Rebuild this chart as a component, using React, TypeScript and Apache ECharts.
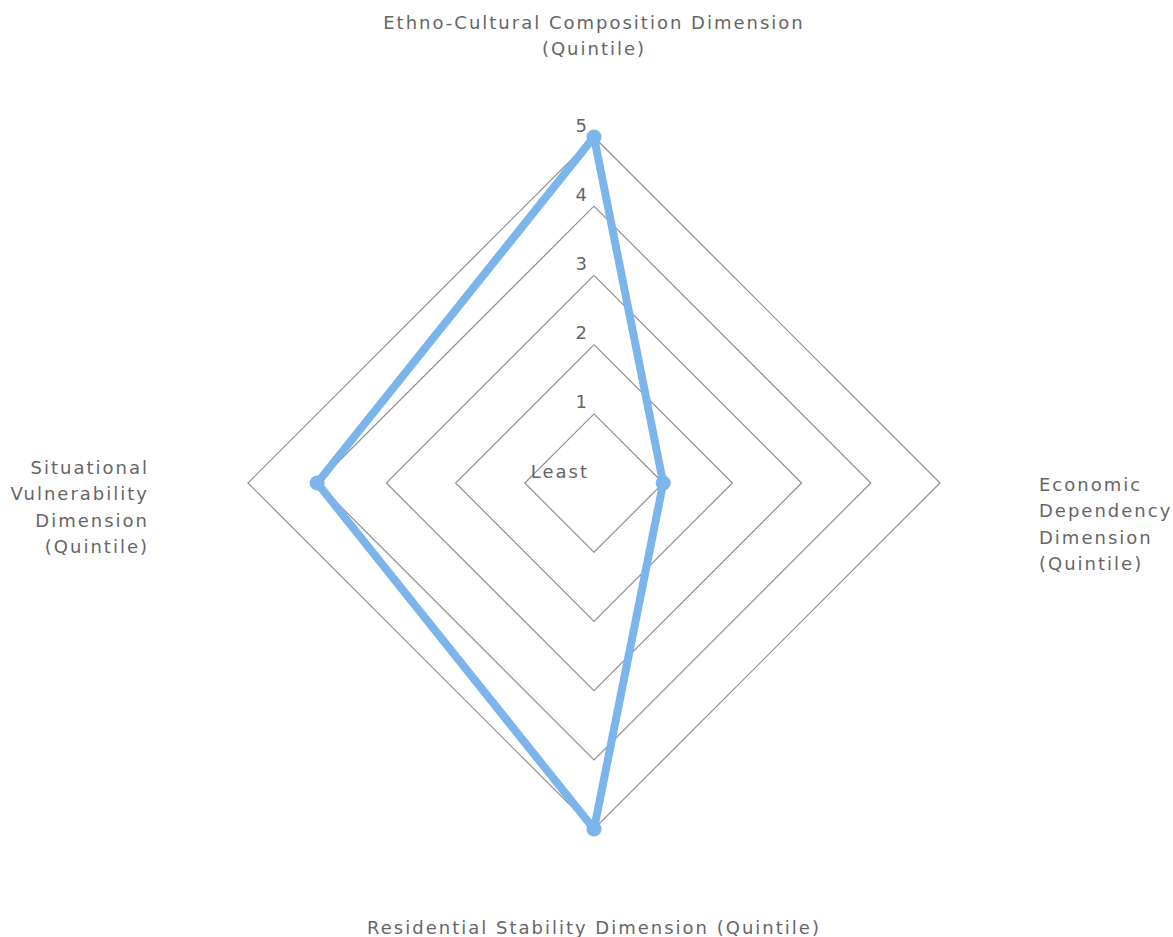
import React, { useEffect, useRef } from "react";
import * as echarts from "echarts";

const indicatorNames = [
  "Ethno-Cultural Composition Dimension\n(Quintile)",
  "Situational\nVulnerability\nDimension\n(Quintile)",
  "Residential Stability Dimension (Quintile)",
  "Economic\nDependency\nDimension\n(Quintile)",
];
const values = [5, 4, 5, 1];
const axisMin = 0;
const axisMax = 5;
const centerLabel = "Least";

const TEXT_COLOR = "#666666";
const FONT = "'DejaVu Sans', 'Lucida Grande', sans-serif";

export default function App() {
  const ref = useRef<HTMLDivElement>(null);
  useEffect(() => {
    if (!ref.current) return;
    const chart = echarts.init(ref.current, null, { renderer: "svg" });
    const textStyle = { fill: TEXT_COLOR, font: `18px ${FONT}`, lineHeight: 26.5 };
    chart.setOption({
      animation: false,
      backgroundColor: "#ffffff",
      radar: {
        center: [594, 483],
        radius: 346,
        shape: "polygon",
        startAngle: 90,
        splitNumber: 5,
        indicator: indicatorNames.map((n, i) => ({
          name: n,
          min: axisMin,
          max: axisMax,
          axisLabel: { show: i === 0 },
        })),
        axisName: { show: false },
        axisLine: { show: false },
        axisTick: { show: false },
        splitArea: { show: false },
        splitLine: { lineStyle: { color: "#8f8f8f", width: 1.2 } },
        axisLabel: {
          show: false,
          color: TEXT_COLOR,
          fontFamily: FONT,
          fontSize: 18,
          margin: 5,
          verticalAlign: "bottom",
          lineHeight: 24,
          formatter: (v: number) => (v === axisMin ? centerLabel : String(v)),
        },
      },
      series: [
        {
          type: "radar",
          symbol: "circle",
          symbolSize: 15,
          lineStyle: { color: "#7cb5ec", width: 8 },
          itemStyle: { color: "#7cb5ec" },
          data: [{ value: values }],
        },
      ],
      graphic: [
        { type: "text", x: 594, y: 9, style: { ...textStyle, text: indicatorNames[0], textAlign: "center" } },
        { type: "text", x: 149, y: 454, style: { ...textStyle, text: indicatorNames[1], textAlign: "right" } },
        { type: "text", x: 594, y: 914, style: { ...textStyle, text: indicatorNames[2], textAlign: "center" } },
        { type: "text", x: 1039, y: 471, style: { ...textStyle, text: indicatorNames[3], textAlign: "left" } },
      ],
    });
    return () => chart.dispose();
  }, []);
  return (
    <>
      <style>{`.radar-host svg text { letter-spacing: 2px; }`}</style>
      <div
        ref={ref}
        className="radar-host"
        style={{ position: "fixed", left: 0, top: 0, width: 1173, height: 937 }}
      />
    </>
  );
}
